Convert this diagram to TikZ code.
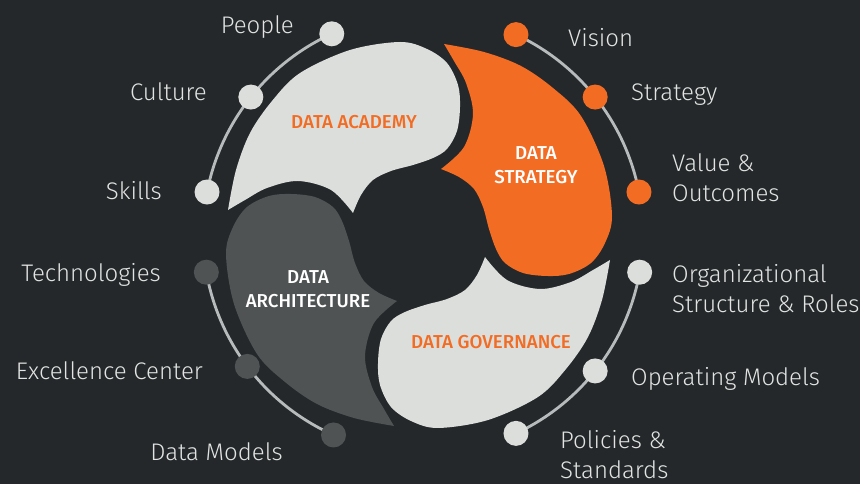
\documentclass[tikz,border=0pt]{standalone}
\usepackage{fontspec}
\setmainfont{Fira Sans Light}
\newfontfamily\petalfont{Fira Sans Medium}
\usepackage{tikz}
\usetikzlibrary{
  positioning
  , calc
}
\definecolor{bgcol}{HTML}{25282B}
\definecolor{lightpetal}{HTML}{DCDEDB}
\definecolor{darkpetal}{HTML}{4F5354}
\definecolor{orangepetal}{HTML}{F26C24}
\definecolor{ringcol}{HTML}{B7BBBC}
\definecolor{textcol}{HTML}{E2E4E2}
\tikzset{
  dot/.style={circle, inner sep=0pt, minimum size=25pt},
  ringline/.style={draw=ringcol, line width=2.8pt},
  itemlabel/.style={text=textcol, align=left, inner sep=0pt,
    font=\fontsize{24}{30}\selectfont},
  petallabel/.style={align=center, inner sep=0pt,
    font=\petalfont\fontsize{18.7}{24}\selectfont}
}

\begin{document}
\begin{tikzpicture}[x=1pt, y=1pt]
      \useasboundingbox (0,0) rectangle (860,484);
      \fill [bgcol] (0,0) rectangle (860,484);
      \coordinate (O) at (419,249);
      \coordinate (R) at (423,250);

      % four petals, one shape turned by 90 degrees each time
      \foreach \rot/\col in {0/lightpetal, 90/darkpetal,
        180/lightpetal, 270/orangepetal}{
        \fill [\col, shift={(O)}, rotate=\rot]
          plot [smooth, tension=0.55] coordinates {
            (-191,25) (-183,65) (-169,102) (-147,134) (-119,162)
            (-69,185) (-19,193) (8,186) (28,172) (39,150) (41,128)
            (38,104) (28,86) (14,77) (-6,70) (-28,64) (-46,55)
            (-58,40) (-66,22)}
          -- plot [smooth, tension=0.55] coordinates {
            (-66,22) (-88,45) (-121,54) (-152,47) (-174,35) (-191,25)}
          -- cycle;
      }

      % outer ring
      \foreach \a/\b in {11/65, 114.5/169, 190/246, 295/350}
        \draw [ringline] ([shift={(\a:220)}]R) arc [start angle=\a,
          end angle=\b, radius=220];

      \foreach \ang/\col/\nm in {65/orangepetal/vision,
        38.5/orangepetal/strategy, 11/orangepetal/value,
        350/lightpetal/org, 321.5/lightpetal/operating,
        295/lightpetal/policies, 246/darkpetal/models,
        217/darkpetal/excellence, 190/darkpetal/tech,
        169/lightpetal/skills, 141.5/lightpetal/culture,
        114.5/lightpetal/people}
        \node [dot, fill=\col] (d-\nm) at ([shift={(\ang:220)}]R) {};

      % item labels (base = last line)
      \node [itemlabel, anchor=base east] (people) at (294,450) {People};
      \node [itemlabel, anchor=base east] (culture) at (207,383) {Culture};
      \node [itemlabel, anchor=base east] (skills) at (162,284) {Skills};
      \node [itemlabel, anchor=base east] (tech) at (161,202) {Technologies};
      \node [itemlabel, anchor=base east] (excellence) at (203,104)
        {Excellence Center};
      \node [itemlabel, anchor=base east] (models) at (283,23) {Data Models};
      \node [itemlabel, anchor=base west] (vision) at (568,437) {Vision};
      \node [itemlabel, anchor=base west] (strategy) at (631,383) {Strategy};
      \node [itemlabel, anchor=base west] (value) at (672,282)
        {Value \&\\Outcomes};
      \node [itemlabel, anchor=base west] (org) at (672,171)
        {Organizational\\Structure \& Roles};
      \node [itemlabel, anchor=base west] (operating) at (631,98)
        {Operating Models};
      \node [itemlabel, anchor=base west] (policies) at (560,5)
        {Policies \&\\Standards};

      % petal labels
      \node [petallabel, text=orangepetal] (academy) at (354,362)
        {DATA ACADEMY};
      \node [petallabel, text=white] (dstrategy) at (536,319)
        {DATA\\STRATEGY};
      \node [petallabel, text=white] (architecture) at (308,195)
        {DATA\\ARCHITECTURE};
      \node [petallabel, text=orangepetal] (governance) at (491,142)
        {DATA GOVERNANCE};
    \end{tikzpicture}
\end{document}
